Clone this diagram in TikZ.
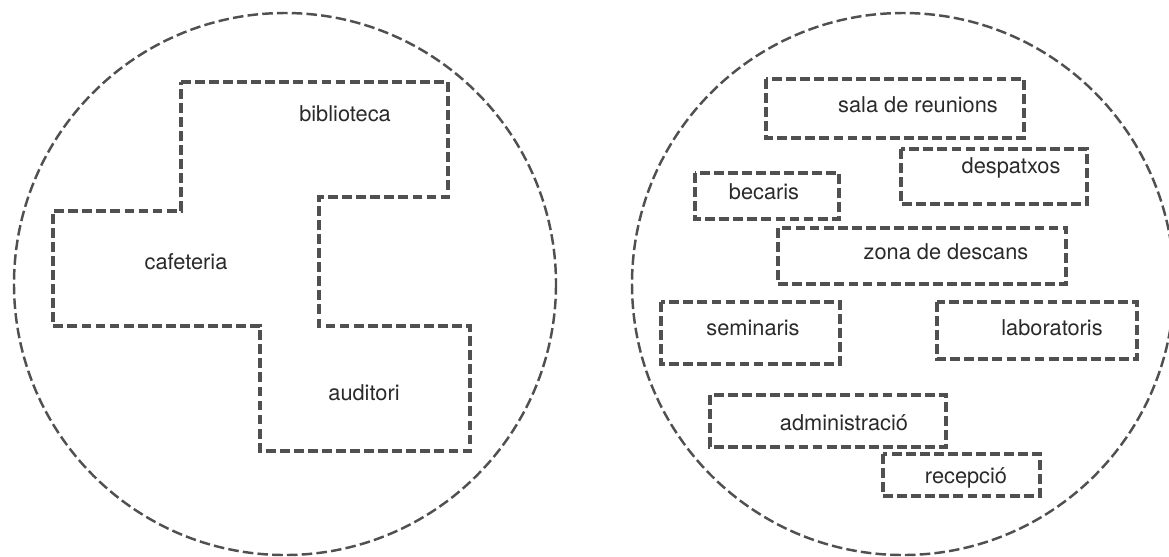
\documentclass[tikz,border=0pt]{standalone}
\usepackage{fontspec}
\setmainfont{TeX Gyre Heros}
\definecolor{linegray}{HTML}{505050}
\definecolor{textgray}{HTML}{2A2A2A}
\tikzset{
  zone/.style={draw=linegray, line width=1.4pt, dash pattern=on 6pt off 2.4pt},
  room/.style={draw=linegray, line width=1.8pt, dash pattern=on 5.6pt off 2.4pt},
  roomname/.style={text=textgray, inner sep=0pt, font=\fontsize{12.4}{14}\selectfont}
}
\begin{document}
\begin{tikzpicture}[x=0.02cm, y=-0.02cm]

  \useasboundingbox (0,0) rectangle (1169,556);
  \clip (0,0) rectangle (1169,556);

  \coordinate (L) at (285,284);
  \coordinate (R) at (903,284);

  % les dues zones
  \draw[zone] (L) circle [radius=271];
  \draw[zone] (R) circle [radius=271];

  % zona comuna
  \draw[room] (181,82) -- (448,82) -- (448,197) -- (319,197) -- (319,326)
    -- (470,326) -- (470,451) -- (260,451) -- (260,326) -- (53,326)
    -- (53,211) -- (181,211) -- cycle;
  \node[roomname] (biblioteca) at (345,114) {biblioteca};
  \node[roomname] (cafeteria) at (186,262) {cafeteria};
  \node[roomname] (auditori) at (364,393) {auditori};

  % zona de treball
  \draw[room] (766,79) rectangle (1024,138);
  \node[roomname] (reunions) at (918,105) {sala de reunions};

  \draw[room] (901,149) rectangle (1087,204);
  \node[roomname] (despatxos) at (1011,168) {despatxos};

  \draw[room] (695,173) rectangle (839,219);
  \node[roomname] (becaris) at (764,192) {becaris};

  \draw[room] (778,228) rectangle (1066,284);
  \node[roomname] (descans) at (946,252) {zona de descans};

  \draw[room] (661,302) rectangle (840,364);
  \node[roomname] (seminaris) at (753,328) {seminaris};

  \draw[room] (937,302) rectangle (1137,359);
  \node[roomname] (laboratoris) at (1052,328) {laboratoris};

  \draw[room] (710,395) rectangle (946,447);
  \node[roomname] (administracio) at (844,423) {administració};

  \draw[room] (883,454) rectangle (1040,496);
  \node[roomname] (recepcio) at (966,478) {recepció};

\end{tikzpicture}
\end{document}
